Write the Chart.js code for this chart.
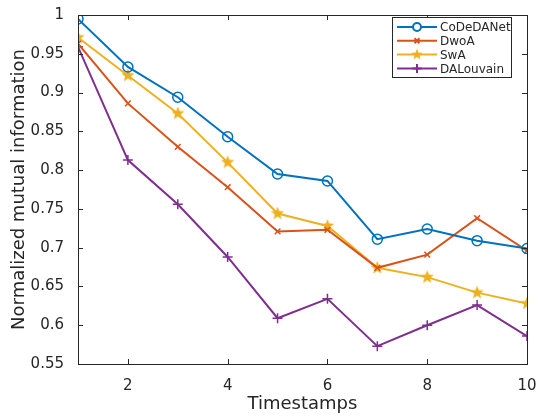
<!DOCTYPE html>
<html>
<head>
<meta charset="utf-8">
<script src="https://cdn.jsdelivr.net/npm/chart.js@4/dist/chart.umd.min.js"></script>
<style>
  html, body { margin: 0; padding: 0; background: #fff; }
  #wrap { width: 546px; height: 419px; }
</style>
</head>
<body>
<div id="wrap"><canvas id="nmiChart" width="546" height="419"></canvas></div>
<script>
// Données
const timestamps = [1, 2, 3, 4, 5, 6, 7, 8, 9, 10];
const codedanet = [0.995, 0.933, 0.894, 0.843, 0.795, 0.786, 0.711, 0.724, 0.709, 0.699];
const dwoa      = [0.963, 0.886, 0.830, 0.778, 0.721, 0.723, 0.674, 0.691, 0.738, 0.696];
const swa       = [0.971, 0.922, 0.873, 0.810, 0.744, 0.728, 0.674, 0.662, 0.642, 0.628];
const dalouvain = [0.959, 0.813, 0.756, 0.688, 0.609, 0.634, 0.573, 0.600, 0.626, 0.586];
const xTicks = [2, 4, 6, 8, 10];
const yTicks = [0.55, 0.6, 0.65, 0.7, 0.75, 0.8, 0.85, 0.9, 0.95, 1];

const axisColor = "#262626";
const fontFamily = "'DejaVu Sans', sans-serif";

// étoile pleine (pentagramme) pour SwA
function makeStar(color, size) {
    const c = document.createElement("canvas");
    c.width = size * 2 + 2; c.height = size * 2 + 2;
    const g = c.getContext("2d");
    const m = size + 1;
    g.beginPath();
    for (let i = 0; i < 10; i++) {
        const r = i % 2 === 0 ? size : size * 0.42;
        const a = -Math.PI / 2 + i * Math.PI / 5;
        const px = m + r * Math.cos(a), py = m + r * Math.sin(a);
        if (i === 0) g.moveTo(px, py); else g.lineTo(px, py);
    }
    g.closePath();
    g.fillStyle = color;
    g.fill();
    return c;
}
const starImg = makeStar("#EDB120", 7);
const starSmall = makeStar("#EDB120", 6);

const series = [
    {label: "CoDeDANet", data: codedanet, color: "#0072BD", style: "circle", radius: 5, legendStyle: "circle", legendRadius: 4},
    {label: "DwoA", data: dwoa, color: "#D95319", style: "crossRot", radius: 4, legendStyle: "crossRot", legendRadius: 3.5},
    {label: "SwA", data: swa, color: "#EDB120", style: starImg, radius: 7, legendStyle: starSmall, legendRadius: 6},
    {label: "DALouvain", data: dalouvain, color: "#7E2F8E", style: "cross", radius: 5, legendStyle: "cross", legendRadius: 4.5}
];

// cadre + graduations vers l'intérieur (style MATLAB)
const boxPlugin = {
    id: "boxPlugin",
    afterDraw(chart) {
        const {ctx, chartArea: a, scales} = chart;
        ctx.save();
        ctx.strokeStyle = axisColor;
        ctx.lineWidth = 1;
        ctx.strokeRect(a.left + 0.5, a.top + 0.5, a.right - a.left, a.bottom - a.top);
        xTicks.forEach(v => {
            const x = Math.round(scales.x.getPixelForValue(v)) + 0.5;
            ctx.beginPath();
            ctx.moveTo(x, a.bottom); ctx.lineTo(x, a.bottom - 5);
            ctx.moveTo(x, a.top); ctx.lineTo(x, a.top + 5);
            ctx.stroke();
        });
        yTicks.forEach(v => {
            const y = Math.round(scales.y.getPixelForValue(v)) + 0.5;
            ctx.beginPath();
            ctx.moveTo(a.left, y); ctx.lineTo(a.left + 5, y);
            ctx.moveTo(a.right, y); ctx.lineTo(a.right - 5, y);
            ctx.stroke();
        });
        ctx.restore();
    }
};

// légende encadrée en haut à droite
const legendPlugin = {
    id: "legendPlugin",
    afterDraw(chart) {
        const ctx = chart.ctx;
        const bx = 392, by = 17, bw = 119, bh = 60;
        ctx.save();
        ctx.fillStyle = "#fff";
        ctx.fillRect(bx, by, bw, bh);
        ctx.strokeStyle = axisColor;
        ctx.lineWidth = 1;
        ctx.strokeRect(bx + 0.5, by + 0.5, bw, bh);
        ctx.font = "12px " + fontFamily;
        ctx.textBaseline = "middle";
        series.forEach((s, i) => {
            const y = by + 10 + i * 13.8;
            ctx.strokeStyle = s.color;
            ctx.lineWidth = 2;
            ctx.beginPath();
            ctx.moveTo(bx + 5, y); ctx.lineTo(bx + 45, y);
            ctx.stroke();
            Chart.helpers.drawPoint(ctx, {
                pointStyle: s.legendStyle, radius: s.legendRadius, borderWidth: 1.5, rotation: 0
            }, bx + 25, y);
            ctx.fillStyle = axisColor;
            ctx.fillText(s.label, bx + 48, y + 1);
        });
        ctx.restore();
    }
};

new Chart(document.getElementById("nmiChart"), {
    type: "line",
    data: {
        labels: timestamps,
        datasets: series.map(s => ({
            label: s.label,
            data: s.data,
            borderColor: s.color,
            backgroundColor: "rgba(0,0,0,0)",
            pointBorderColor: s.color,
            pointBackgroundColor: "rgba(0,0,0,0)",
            pointStyle: s.style,
            pointRadius: s.radius,
            pointBorderWidth: 1.5,
            borderWidth: 2,
            tension: 0,
            fill: false
        }))
    },
    options: {
        responsive: false,
        animation: false,
        layout: { padding: { top: 13, right: 19, left: 0, bottom: 0 } },
        plugins: { legend: { display: false }, tooltip: { enabled: false } },
        scales: {
            x: {
                type: "linear",
                min: 1, max: 10,
                grid: { display: false },
                border: { display: false },
                afterBuildTicks: sc => { sc.ticks = xTicks.map(v => ({value: v})); },
                afterFit: sc => { sc.height = 55; },
                ticks: {
                    color: axisColor, padding: 5,
                    font: { family: fontFamily, size: 15 },
                    maxRotation: 0,
                    callback: v => String(v)
                },
                title: {
                    display: true, text: "Timestamps", color: axisColor,
                    font: { family: fontFamily, size: 18 }, padding: { top: 0 }
                }
            },
            y: {
                min: 0.55, max: 1,
                grid: { display: false },
                border: { display: false },
                afterBuildTicks: sc => { sc.ticks = yTicks.map(v => ({value: v})); },
                afterFit: sc => { sc.width = 78; },
                ticks: {
                    color: axisColor, padding: 6,
                    font: { family: fontFamily, size: 15 },
                    callback: v => String(Number(v.toFixed(2)))
                },
                title: {
                    display: true, text: "Normalized mutual information", color: axisColor,
                    font: { family: fontFamily, size: 18 }, padding: { top: 9, bottom: 0 }
                }
            }
        }
    },
    plugins: [boxPlugin, legendPlugin]
});
</script>
</body>
</html>
